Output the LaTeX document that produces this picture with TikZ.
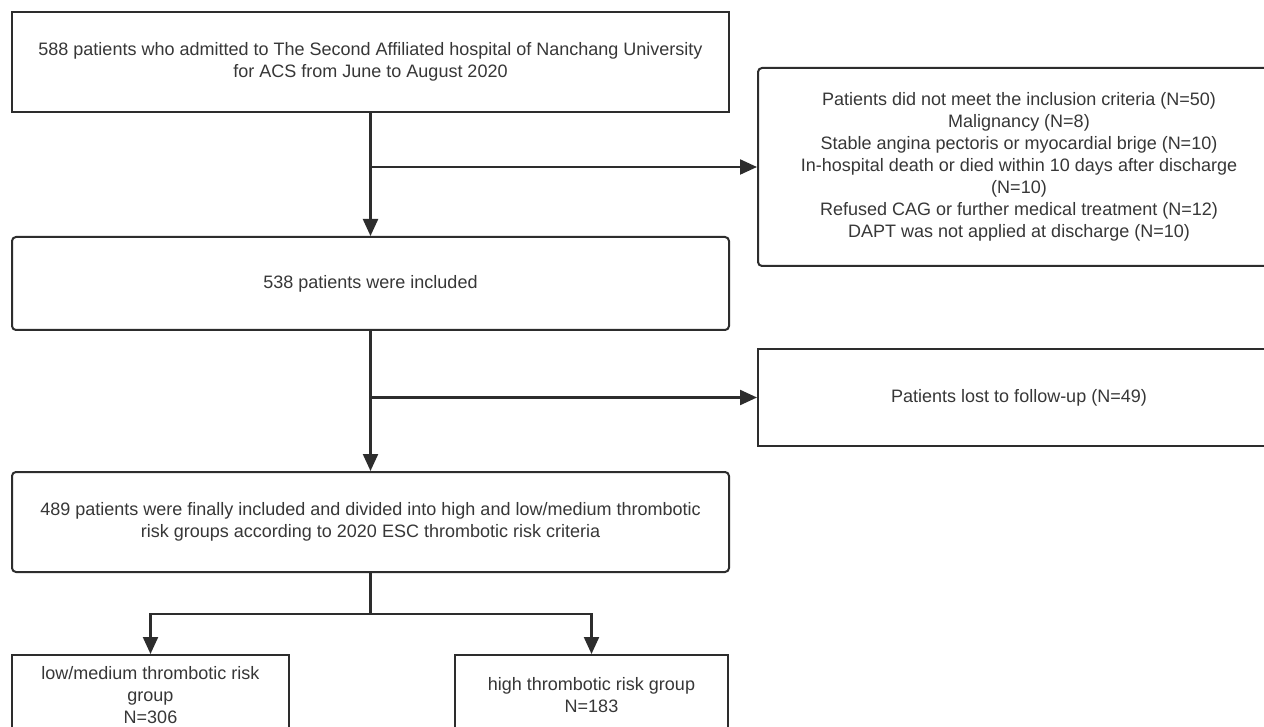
\documentclass[tikz,border=0pt]{standalone}
\usepackage{fontspec}
\setmainfont{Liberation Sans}
\usetikzlibrary{arrows.meta,calc}
\definecolor{lineC}{RGB}{45,45,45}
\definecolor{textC}{RGB}{55,55,55}
\begin{document}
\begin{tikzpicture}[x=1pt,y=-1pt,
  box/.style={draw=lineC, line width=2pt, fill=white, text=textC, align=center,
    inner sep=0pt, font=\fontsize{18}{22}\selectfont},
  rbox/.style={box, rounded corners=4pt},
  arr/.style={draw=lineC, line width=2.2pt, -{Triangle[length=17pt,width=15pt]}},
  conn/.style={draw=lineC, line width=2.2pt}]
\clip (0,0) rectangle (1264,727);
\fill[white] (0,0) rectangle (1264,727);
\node[box, minimum width=717pt, minimum height=100pt] (b1) at (370.5,62)
  {588 patients who admitted to The Second Affiliated hospital of Nanchang University\\for ACS from June to August 2020};
\node[rbox, minimum width=717pt, minimum height=93pt] (b2) at (370.5,283.5)
  {538 patients were included};
\node[rbox, minimum width=717pt, minimum height=100pt] (b3) at (370.5,522)
  {489 patients were finally included and divided into high and low/medium thrombotic\\risk groups according to 2020 ESC thrombotic risk criteria};
\node[rbox, minimum width=522pt, minimum height=198pt] (r1) at (1019,167)
  {Patients did not meet the inclusion criteria (N=50)\\Malignancy (N=8)\\Stable angina pectoris or myocardial brige (N=10)\\In-hospital death or died within 10 days after discharge\\(N=10)\\Refused CAG or further medical treatment (N=12)\\DAPT was not applied at discharge (N=10)};
\node[box, minimum width=522pt, minimum height=97pt] (r2) at (1019,397.5)
  {Patients lost to follow-up (N=49)};
\node[box, minimum width=277pt, minimum height=80pt] (l4) at (150.5,695)
  {low/medium thrombotic risk\\group\\N=306};
\node[box, minimum width=273pt, minimum height=80pt] (r4) at (591.5,695)
  {high thrombotic risk group\\N=183};
\draw[arr] (b1.south) -- (b2.north);
\draw[arr] (b1.south |- r1.west) -- (r1.west);
\draw[arr] (b2.south) -- (b3.north);
\draw[arr] (b2.south |- r2.west) -- (r2.west);
\coordinate (br) at ($(b3.south)+(0,41)$);
\draw[conn] (b3.south) -- (br);
\draw[arr] (br) -| (l4.north);
\draw[arr] (br) -| (r4.north);
\end{tikzpicture}
\end{document}
